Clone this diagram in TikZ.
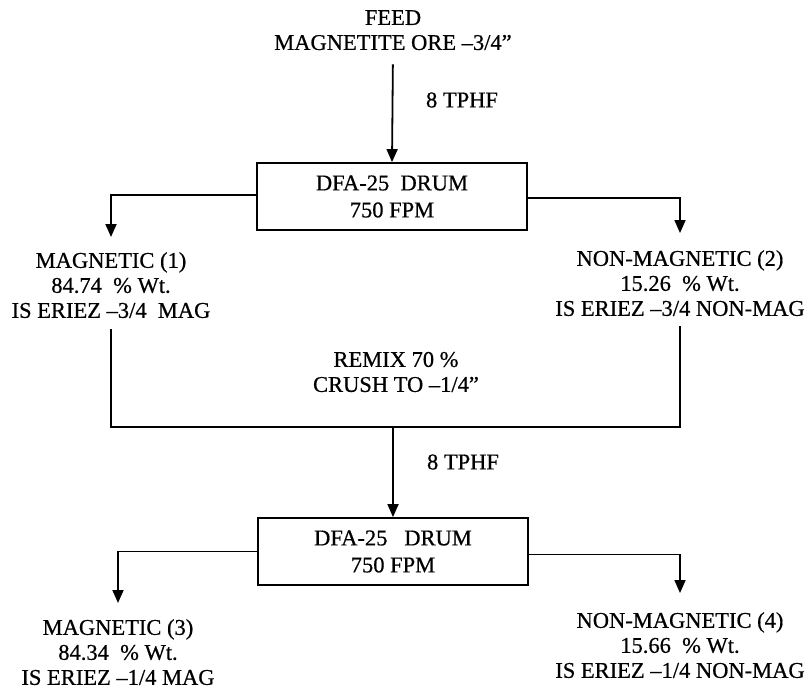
\documentclass[tikz,border=0pt]{standalone}
\usepackage{fontspec}
\setmainfont[FakeBold=0.6]{Liberation Serif}
\usetikzlibrary{arrows.meta}
\begin{document}
\begin{tikzpicture}[x=1pt,y=-1pt,
  txt/.style={font=\fontsize{22.5}{25}\selectfont, align=center, inner sep=0pt},
  drumbox/.style={draw, line width=1.8pt, minimum width=270pt, minimum height=67pt, align=center,
                  font=\fontsize{22.5}{27}\selectfont, inner sep=0pt},
  flow/.style={line width=1.8pt},
  arr/.style={flow, -{Triangle[length=13pt,width=11pt]}}]
\useasboundingbox (0,0) rectangle (808,690);

% top feed
\node[txt, anchor=north] (feed) at (393,10) {FEED\\MAGNETITE ORE –3/4”};
\node[txt] (rate1) at (462,100) {8 TPHF};
\node[drumbox] (box1) at (392,196.5) {DFA-25\ \ DRUM\\750 FPM};

% first products
\node[txt, anchor=north] (mag1) at (111,252) {MAGNETIC (1)\\84.74\ \ \% Wt.\\IS ERIEZ –3/4\ \ MAG};
\node[txt, anchor=north] (nmag1) at (680,250) {NON-MAGNETIC (2)\\15.26\ \ \% Wt.\\IS ERIEZ –3/4 NON-MAG};

% remix
\node[txt] (remix) at (396,372) {REMIX 70 \%\\CRUSH TO –1/4”};
\coordinate (join) at (393,427);
\node[txt] (rate2) at (463,462) {8 TPHF};
\node[drumbox] (box2) at (393,551.5) {DFA-25\ \ \ DRUM\\750 FPM};

% second products
\node[txt, anchor=north] (mag3) at (118,619) {MAGNETIC (3)\\84.34\ \ \% Wt.\\IS ERIEZ –1/4 MAG};
\node[txt, anchor=north] (nmag4) at (680,612) {NON-MAGNETIC (4)\\15.66\ \ \% Wt.\\IS ERIEZ –1/4 NON-MAG};

% connectors
\draw[arr, shorten <=14pt] (feed.south) -- (box1.north);
\draw[arr, shorten >=15pt] ([yshift=1.5pt]box1.west) -| (mag1.north);
\draw[arr, shorten >=17pt] ([yshift=-1.5pt]box1.east) -| (nmag1.north);
\draw[flow, shorten <=11pt] (mag1.south) |- (join);
\draw[flow, shorten <=10pt] (nmag1.south) |- (join);
\draw[arr] (join) -- (box2.north);
\draw[arr, shorten >=16pt] (box2.west) -| (mag3.north);
\draw[arr, shorten >=19pt] ([yshift=-3pt]box2.east) -| (nmag4.north);
\end{tikzpicture}
\end{document}
